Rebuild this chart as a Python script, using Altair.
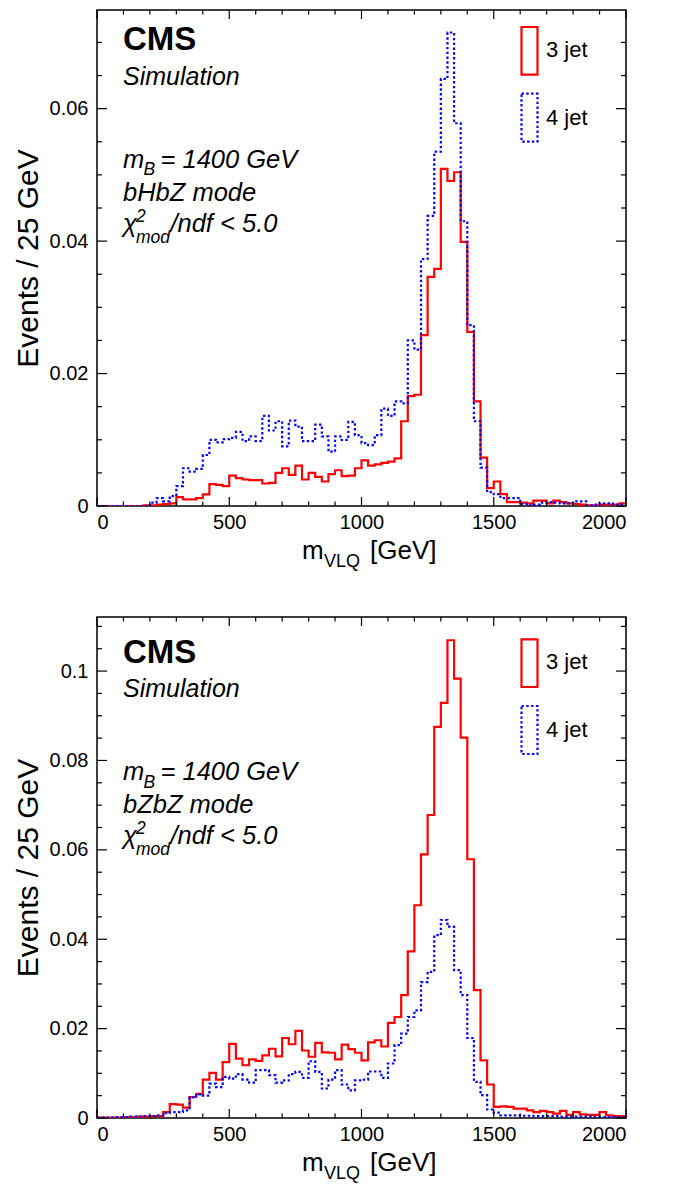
import altair as alt
import pandas as pd

# ---------------- data ----------------
edges = list(range(0, 2001, 25))          # 80 bins of 25 GeV
series_names = ["3 jet", "4 jet"]

top_3jet = [0, 0, 0, 0, 0, 0, 0, 0.0001,
            0.0001, 0.0002, 0.0003, 0.0004, 0.00135, 0.001, 0.001, 0.0012,
            0.00175, 0.0033, 0.0032, 0.003, 0.0046, 0.0042, 0.004, 0.0039,
            0.0039, 0.0034, 0.0035, 0.005, 0.0057, 0.0047, 0.0061, 0.004,
            0.005, 0.0044, 0.0037, 0.0048, 0.0054, 0.0045, 0.0046, 0.0057,
            0.0069, 0.0061, 0.0063, 0.0065, 0.0067, 0.0072, 0.0128, 0.0166,
            0.0168, 0.0258, 0.0346, 0.0358, 0.0509, 0.0491, 0.0504, 0.0399,
            0.0263, 0.0158, 0.0073, 0.0027, 0.0037, 0.0018, 0.0006, 0.0006,
            0.0005, 0.0004, 0.0008, 0.0008, 0.0004, 0.0008, 0.0006, 0.0004,
            0.0003, 0.0002, 0.0001, 0.0001, 0.0002, 0.0002, 0.0002, 0.0004]
top_4jet = [0, 0, 0, 0, 0, 0, 0, 0,
            0.0005, 0.0012, 0.0007, 0.0015, 0.003, 0.0057, 0.0052, 0.0056,
            0.0077, 0.01, 0.0096, 0.0101, 0.0103, 0.0112, 0.0098, 0.0105,
            0.0098, 0.0136, 0.0114, 0.0128, 0.009, 0.0129, 0.012, 0.0098,
            0.0098, 0.0123, 0.0105, 0.0082, 0.0105, 0.01, 0.0127, 0.0107,
            0.0095, 0.0092, 0.0107, 0.0147, 0.0136, 0.0158, 0.0155, 0.025,
            0.0236, 0.0373, 0.0438, 0.0535, 0.0645, 0.0715, 0.0578, 0.043,
            0.0273, 0.0128, 0.0058, 0.0021, 0.0018, 0.0012, 0.0012, 0.0012,
            0.0003, 0.0001, 0.0002, 0.0005, 0.0006, 0.0005, 0.0004, 0.0004,
            0.0007, 0.0007, 0.0001, 0.0002, 0.0004, 0.0004, 0.0002, 0.0002]

bot_3jet = [0.0001, 0.0001, 0.0001, 0.0001, 0.0002, 0.0002, 0.0003, 0.0003,
            0.0004, 0.0004, 0.0013, 0.0031, 0.003, 0.0023, 0.0047, 0.0054,
            0.0086, 0.0101, 0.0086, 0.0125, 0.0166, 0.0133, 0.0118, 0.0131,
            0.0128, 0.014, 0.0155, 0.0138, 0.0179, 0.0165, 0.0195, 0.0151,
            0.0137, 0.0168, 0.0147, 0.0146, 0.0131, 0.0164, 0.0154, 0.0146,
            0.0129, 0.0169, 0.0174, 0.016, 0.0213, 0.0226, 0.0275, 0.0373,
            0.0476, 0.059, 0.0678, 0.0875, 0.0929, 0.1069, 0.0983, 0.0851,
            0.0579, 0.0286, 0.0129, 0.0075, 0.0025, 0.0026, 0.0025, 0.0021,
            0.0021, 0.0017, 0.0013, 0.0016, 0.0013, 0.001, 0.0016, 0.0007,
            0.0013, 0.0008, 0.0007, 0.0007, 0.0013, 0.0006, 0.0004, 0.0004]
bot_4jet = [0.0001, 0.0001, 0.0001, 0.0002, 0.0002, 0.0003, 0.0003, 0.0004,
            0.0004, 0.0006, 0.0011, 0.0013, 0.0013, 0.0017, 0.0046, 0.0053,
            0.005, 0.0077, 0.0069, 0.0092, 0.0088, 0.0098, 0.0086, 0.0079,
            0.0107, 0.0107, 0.0096, 0.0079, 0.0084, 0.0098, 0.0103, 0.009,
            0.0127, 0.0103, 0.0066, 0.0086, 0.0107, 0.0075, 0.0062, 0.0084,
            0.0086, 0.0104, 0.0104, 0.009, 0.0122, 0.0163, 0.0189, 0.0226,
            0.0241, 0.0304, 0.0327, 0.0409, 0.0443, 0.0428, 0.0331, 0.0275,
            0.0179, 0.0081, 0.0051, 0.0019, 0.0012, 0.0006, 0.0006, 0.0006,
            0.0005, 0.0005, 0.0004, 0.0004, 0.0004, 0.0004, 0.0003, 0.0003,
            0.0003, 0.0003, 0.0003, 0.0002, 0.0002, 0.0002, 0.0002, 0.0002]

x_major = [0, 500, 1000, 1500, 2000]
x_minor = [100, 200, 300, 400, 600, 700, 800, 900, 1100, 1200, 1300, 1400,
           1600, 1700, 1800, 1900]
top_y_major = [0, 0.02, 0.04, 0.06]
top_y_minor = [0.005, 0.01, 0.015, 0.025, 0.03, 0.035, 0.045, 0.05, 0.055,
               0.065, 0.07]
bot_y_major = [0, 0.02, 0.04, 0.06, 0.08, 0.1]
bot_y_minor = [0.005, 0.01, 0.015, 0.025, 0.03, 0.035, 0.045, 0.05, 0.055,
               0.065, 0.07, 0.075, 0.085, 0.09, 0.095, 0.105, 0.11]

# ---------------- layout / style ----------------
W = 529
FONT = "Liberation Sans"
RED, BLUE = "#ff0000", "#0000ff"
LW = 2.2
DOT = [2.4, 2.4]
TXT = 25.5
SUB = 17.5


def hist_df(v3, v4):
    rows = []
    for name, vals in zip(series_names, [v3, v4]):
        for i, e in enumerate(edges):
            rows.append({"m": e, "v": vals[min(i, len(vals) - 1)], "s": name})
    return pd.DataFrame(rows)


one = alt.Data(values=[{"k": 0}])


def txt(s, x, y, size, style="italic", weight="normal", color="black"):
    return alt.Chart(one).mark_text(
        align="left", baseline="alphabetic", font=FONT, fontSize=size,
        fontStyle=style, fontWeight=weight, color=color
    ).encode(x=alt.value(x), y=alt.value(y), text=alt.value(s))


def panel(v3, v4, ymax, ymaj, ymin, mode, H, dy):
    xs = alt.Scale(domain=[0, 2000], nice=False, zero=False)
    ys = alt.Scale(domain=[0, ymax], nice=False, zero=True)
    xaxis = alt.Axis(
        values=x_major, format="d", ticks=False, domain=False, grid=False,
        labelFont=FONT, labelFontSize=20, labelColor="black",
        labelPadding=6, title=None)
    yaxis = alt.Axis(
        values=ymaj, format=".2~f", ticks=False, domain=False, grid=False,
        labelFont=FONT, labelFontSize=20, labelColor="black",
        labelPadding=9, title="Events / 25 GeV", titleFont=FONT,
        titleFontSize=30, titleFontWeight="normal", titleColor="black",
        titlePadding=6)
    df = hist_df(v3, v4)
    lines = alt.Chart(df).mark_line(
        interpolate="step-after", strokeWidth=LW, clip=True, strokeCap="butt"
    ).encode(
        x=alt.X("m:Q", scale=xs, axis=xaxis),
        y=alt.Y("v:Q", scale=ys, axis=yaxis),
        color=alt.Color("s:N", scale=alt.Scale(domain=series_names,
                                               range=[RED, BLUE]), legend=None),
        strokeDash=alt.StrokeDash("s:N", scale=alt.Scale(
            domain=series_names, range=[[1, 0], DOT]), legend=None),
    )

    def xticks(vals, L):
        d = pd.DataFrame({"m": vals})
        b = alt.Chart(d).mark_rule(color="black", strokeWidth=1.2).encode(
            x=alt.X("m:Q", scale=xs, axis=xaxis), y=alt.value(H), y2=alt.value(H - L))
        t = alt.Chart(d).mark_rule(color="black", strokeWidth=1.2).encode(
            x=alt.X("m:Q", scale=xs, axis=xaxis), y=alt.value(0), y2=alt.value(L))
        return [b, t]

    def yticks(vals, L):
        d = pd.DataFrame({"v": vals})
        l = alt.Chart(d).mark_rule(color="black", strokeWidth=1.2).encode(
            y=alt.Y("v:Q", scale=ys, axis=yaxis), x=alt.value(0), x2=alt.value(L))
        r = alt.Chart(d).mark_rule(color="black", strokeWidth=1.2).encode(
            y=alt.Y("v:Q", scale=ys, axis=yaxis), x=alt.value(W), x2=alt.value(W - L))
        return [l, r]

    ticks = xticks(x_major, 9) + xticks(x_minor, 4.5) + \
        yticks(ymaj, 10) + yticks(ymin, 5)

    texts = [
        txt("CMS", 26, 45.6 + dy, 33, style="normal", weight="bold"),
        txt("Simulation", 26, 80 + dy, 25),
        txt("m", 26, 163 + dy, TXT),
        txt("B", 46.5, 170.6 + dy, SUB),
        txt("= 1400 GeV", 63.5, 163 + dy, TXT),
        txt(mode, 26, 196.3 + dy, TXT),
        txt("\u03c7", 26, 227.3 + dy, TXT),
        txt("2", 39, 217.3 + dy, SUB),
        txt("mod", 39, 238 + dy, SUB),
        txt("/ndf < 5.0", 73.4, 227.3 + dy, TXT),
        # x axis title (below the plot)
        txt("m", 205, H + 52.7, 26, style="normal"),
        txt("VLQ", 227, H + 60.5, 18, style="normal"),
        txt("[GeV]", 273, H + 52.7, 26, style="normal"),
        # legend
        txt("3 jet", 449, 52.3 + dy, 22, style="normal"),
        txt("4 jet", 449, 120 + dy, 22, style="normal"),
    ]

    boxes = [
        alt.Chart(one).mark_rect(fillOpacity=0, stroke=RED, strokeWidth=LW).encode(
            x=alt.value(424.5), x2=alt.value(440.5),
            y=alt.value(22.3 + dy), y2=alt.value(70 + dy)),
        alt.Chart(one).mark_rect(fillOpacity=0, stroke=BLUE, strokeWidth=LW,
                                 strokeDash=DOT).encode(
            x=alt.value(424.5), x2=alt.value(440.5),
            y=alt.value(89 + dy), y2=alt.value(137 + dy)),
    ]

    return alt.layer(lines, *ticks, *texts, *boxes).properties(width=W, height=H)


top = panel(top_3jet, top_4jet, 0.0749, top_y_major, top_y_minor,
            "bHbZ mode", 496, -5.3)
bot = panel(bot_3jet, bot_4jet, 0.1121, bot_y_major, bot_y_minor,
            "bZbZ mode", 501, 0)

chart = alt.vconcat(top, bot, spacing=43).configure(
    padding={"left": 4, "top": 0, "right": 5, "bottom": 5},
    background="white",
).configure_view(stroke="black", strokeWidth=1.5)

chart.save("out.html", embed_options={"renderer": "svg", "actions": False})
